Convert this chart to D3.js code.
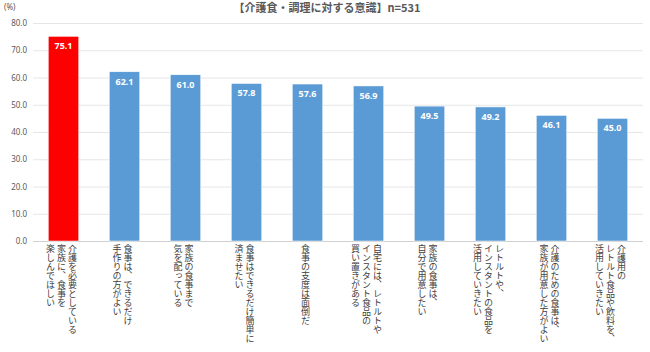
<!DOCTYPE html>
<html>
<head>
<meta charset="utf-8">
<script src="https://cdn.jsdelivr.net/npm/d3@7"></script>
<style>
body { margin:0; background:#fff; }
text { font-family: "Noto Sans CJK JP", "Noto Sans", sans-serif; }
.cat-wrap { width: 100%; text-align: center; line-height: 0; }
.cat {
	display: inline-block;
	writing-mode: vertical-rl;
	text-align: start;
	font-family: "Noto Sans CJK JP", sans-serif;
	font-size: 9px;
	line-height: 11px;
	color: #404040;
	white-space: pre;
}
</style>
</head>
<body>
<svg id="chart" width="650" height="352"></svg>
<script>
var title = '【介護食・調理に対する意識】n=531'
var categories = [
	['介護を必要としている','家族に、食事を','楽しんでほしい'],
	['食事は、できるだけ','手作りの方がよい'],
	['家族の食事まで','気を配っている'],
	['食事はできるだけ簡単に','済ませたい'],
	['食事の支度は面倒だ'],
	['自宅には、レトルトや','インスタント食品の','買い置きがある'],
	['家族の食事は、','自分で用意したい'],
	['レトルトや、','インスタントの食品を','活用していきたい'],
	['介護のための食事は、','家族が用意した方がよい'],
	['介護用の','レトルト食品や飲料を、','活用していきたい']
]
var values = [75.1, 62.1, 61.0, 57.8, 57.6, 56.9, 49.5, 49.2, 46.1, 45.0]
var yTicks = [0, 10, 20, 30, 40, 50, 60, 70, 80]

var svg = d3.select('#chart')
var grey = '#595959'

var x = d3.scaleBand()
	.domain(d3.range(values.length))
	.range([33, 643])
	.paddingInner(0.5)
	.paddingOuter(0.25)
var y = d3.scaleLinear()
	.domain([0, 80])
	.range([241, 23])

// gridlines
svg.append('g')
	.selectAll('line')
	.data(yTicks)
	.enter().append('line')
	.attr('x1', 33)
	.attr('x2', 643)
	.attr('y1', function(d){ return y(d) + 0.5 })
	.attr('y2', function(d){ return y(d) + 0.5 })
	.attr('stroke', function(d){ return d == 0 ? '#d0d0d0' : '#e6e6e6' })
	.attr('stroke-width', 1)

// y axis labels
var yAxis = svg.append('g')
	.attr('transform', 'translate(33,0)')
	.call(d3.axisLeft(y).tickValues(yTicks).tickFormat(d3.format('.1f')).tickSize(0).tickPadding(6))
yAxis.select('.domain').remove()
yAxis.selectAll('text')
	.attr('fill', grey)
	.style('font-size', '8px')
	.style('font-family', '"Noto Sans", sans-serif')

svg.append('text')
	.attr('x', 4)
	.attr('y', 10)
	.attr('fill', grey)
	.style('font-size', '8px')
	.style('font-family', '"Noto Sans", sans-serif')
	.text('(%)')

svg.append('text')
	.attr('x', 327)
	.attr('y', 12)
	.attr('fill', grey)
	.attr('text-anchor', 'middle')
	.style('font-size', '11px')
	.style('font-weight', 700)
	.text(title)

// bars
svg.append('g')
	.selectAll('rect')
	.data(values)
	.enter().append('rect')
	.attr('x', function(d,i){ return x(i) })
	.attr('y', function(d){ return y(d) })
	.attr('width', x.bandwidth())
	.attr('height', function(d){ return y(0) - y(d) })
	.attr('fill', function(d,i){ return i == 0 ? '#ff0000' : '#5b9bd5' })
	.attr('stroke', '#ffffff')
	.attr('stroke-width', 0.5)

svg.append('g')
	.selectAll('text')
	.data(values)
	.enter().append('text')
	.attr('x', function(d,i){ return x(i) + x.bandwidth()/2 })
	.attr('y', function(d){ return y(d) + 13 })
	.attr('text-anchor', 'middle')
	.attr('fill', '#ffffff')
	.style('font-size', '9px')
	.style('font-weight', 700)
	.style('font-family', '"Noto Sans", sans-serif')
	.text(function(d){ return d3.format('.1f')(d) })

// vertical category labels (html block, right-to-left columns)
var boxW = 60
svg.append('g')
	.selectAll('foreignObject')
	.data(categories)
	.enter().append('foreignObject')
	.attr('x', function(d,i){ return x(i) + x.bandwidth()/2 - 2 - boxW/2 })
	.attr('y', 244)
	.attr('width', boxW)
	.attr('height', 108)
	.append('xhtml:div')
	.attr('class', 'cat-wrap')
	.append('xhtml:div')
	.attr('class', 'cat')
	.text(function(d){ return d.join('\n') })
</script>
</body>
</html>
